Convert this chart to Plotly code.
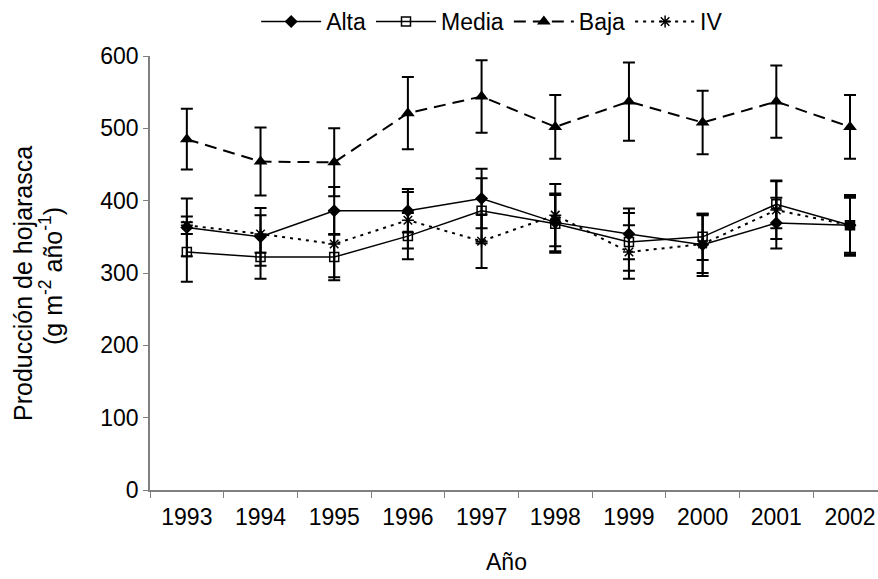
import plotly.graph_objects as go

years = ["1993", "1994", "1995", "1996", "1997", "1998", "1999", "2000", "2001", "2002"]

alta = [363, 350, 386, 386, 403, 370, 354, 339, 369, 366]
alta_err = [40, 40, 33, 30, 41, 40, 35, 43, 35, 40]

media = [329, 322, 322, 351, 386, 368, 343, 350, 395, 366]
media_err = [41, 30, 32, 32, 45, 40, 40, 32, 33, 38]

baja = [485, 454, 453, 521, 544, 502, 537, 508, 537, 502]
baja_err = [42, 47, 47, 50, 50, 44, 54, 44, 50, 44]

iv = [366, 354, 340, 373, 344, 380, 329, 340, 387, 366]
iv_err = [12, 26, 46, 39, 37, 43, 37, 40, 40, 42]

FONT = "Liberation Sans, Arial, sans-serif"
FS = 23

def err(arr):
    return dict(type="data", array=arr, visible=True, color="black", thickness=2, width=6)

fig = go.Figure()
fig.add_trace(go.Scatter(x=years, y=alta, name="Alta", mode="lines+markers",
                         line=dict(color="black", width=1.5),
                         marker=dict(symbol="diamond", size=10, color="black"),
                         error_y=err(alta_err)))
fig.add_trace(go.Scatter(x=years, y=media, name="Media", mode="lines+markers",
                         line=dict(color="black", width=1.5),
                         marker=dict(symbol="square-open", size=9, color="black", line=dict(width=1.5)),
                         error_y=err(media_err)))
fig.add_trace(go.Scatter(x=years, y=baja, name="Baja", mode="lines+markers",
                         line=dict(color="black", width=2, dash="12px,7px"),
                         marker=dict(symbol="triangle-up", size=12, color="black"),
                         error_y=err(baja_err)))
fig.add_trace(go.Scatter(x=years, y=iv, name="IV", mode="lines+markers",
                         line=dict(color="black", width=2, dash="3px,5px"),
                         marker=dict(symbol="asterisk-open", size=10, color="black", line=dict(width=1.5, color="black")),
                         error_y=err(iv_err)))

fig.update_layout(
    width=878, height=579,
    margin=dict(l=150, r=0, t=56, b=89),
    paper_bgcolor="white", plot_bgcolor="white",
    font=dict(family=FONT, size=FS, color="black"),
    showlegend=True,
    legend=dict(orientation="h", x=0.47, xanchor="center", y=1.0, yref="container",
                yanchor="top", font=dict(size=FS), itemwidth=60,
                bgcolor="rgba(0,0,0,0)", tracegroupgap=0),
    xaxis=dict(type="category", range=[-0.5, 9.38], showline=True, linecolor="#808080",
               linewidth=1.5, ticks="outside", tickson="boundaries", ticklen=6,
               tickcolor="#808080", showgrid=False, zeroline=False,
               ticklabelstandoff=6, tickfont=dict(size=FS)),
    yaxis=dict(range=[0, 600], dtick=100, showline=True, linecolor="#808080", linewidth=1.5,
               ticks="outside", ticklen=5, tickcolor="#808080", showgrid=False,
               zeroline=False, tickfont=dict(size=FS)),
    annotations=[
        dict(text="Año", xref="paper", yref="paper", x=0.49, y=-0.166, xanchor="center",
             yanchor="middle", showarrow=False, font=dict(size=FS)),
        dict(text="Producción de hojarasca", xref="paper", yref="paper",
             x=(23 - 150) / 728, y=(490 - 284) / 434, xanchor="center", yanchor="middle",
             textangle=-90, showarrow=False, font=dict(size=25)),
        dict(text="(g m<sup>-2</sup> año<sup>-1</sup>)", xref="paper", yref="paper",
             x=(51 - 150) / 728, y=(490 - 276) / 434, xanchor="center", yanchor="middle",
             textangle=-90, showarrow=False, font=dict(size=25)),
    ],
)

fig.write_html("out.html")
